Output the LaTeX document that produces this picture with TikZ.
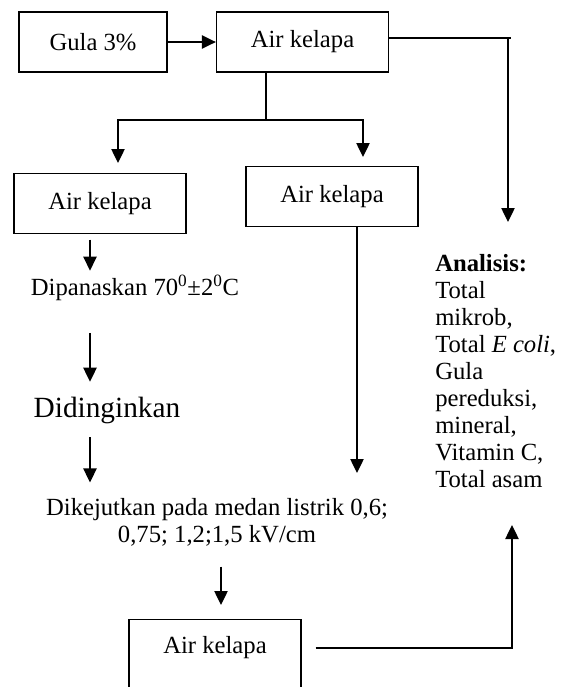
\documentclass[tikz,border=0pt]{standalone}
\usepackage{fontspec}
\setmainfont{Liberation Serif}
\usepackage{tikz}
\usetikzlibrary{arrows.meta, positioning}

\begin{document}
\begin{tikzpicture}[x = 0.75pt, y = -0.75pt,
		kotak/.style = {draw, line width = 1pt, minimum width = 129pt, minimum height = 45pt, inner sep = 0pt, font = \fontsize{18.5}{20.25}\selectfont},
		teks/.style = {inner sep = 0pt, align = center, font = \fontsize{18.5}{20.25}\selectfont},
		garis/.style = {line width = 1pt},
		panah/.style = {line width = 1pt, -{Triangle[width = 10pt, length = 10.5pt]}}]
			\useasboundingbox (0, 0) rectangle (565, 687);
			\node[kotak, minimum width = 111pt] (gula) at (93, 42) {Gula 3\%};
			\node[kotak] (air) at (302.5, 42) {Air kelapa};
			\node[kotak] (airkiri) at (100, 203.5) {Air kelapa};
			\node[kotak] (airtengah) at (332, 196.5) {Air kelapa};
			\node[teks] (panas) at (135, 288) {Dipanaskan 70\textsuperscript{0}±2\textsuperscript{0}C};
			\node[teks, font = \fontsize{22}{24}\selectfont] (dingin) at (107, 410) {Didinginkan};
			\node[teks] (kejut) at (217, 522) {Dikejutkan pada medan listrik 0,6;\\0,75; 1,2;1,5 kV/cm};
			\node[kotak, anchor = north, minimum height = 56pt, text depth = 18pt] (airbawah) at (215, 619) {Air kelapa};
			\node[teks, anchor = north west, align = left] (analisis) at (435, 254)
			{\textbf{Analisis:}\\Total\\mikrob,\\Total \textit{E coli},\\Gula\\pereduksi,\\mineral,\\Vitamin C,\\Total asam};
			\coordinate (cabang) at (266, 120);
			\coordinate (kiri) at (118, 163);
			\coordinate (tengah) at (363, 157);
			\coordinate (kanan) at (508, 38);
			\coordinate (ujungkanan) at (508, 222);
			\coordinate (tengahbawah) at (357, 473);
			\coordinate (kol) at (90, 0);
			\coordinate (kolbawah) at (221, 0);
			\coordinate (garisbawah) at (512, 648);
			\coordinate (bawahkanan) at (512, 525);
			\draw[panah] (gula) -- (air);
			\draw[garis] (air.east |- kanan) -- (kanan) -- ++(3, 0);
			\draw[panah] (kanan) -- (ujungkanan);
			\draw[garis] (cabang |- air.south) -- (cabang);
			\draw[panah] (cabang) -| (kiri);
			\draw[panah] (cabang) -| (tengah);
			\draw[panah] (airtengah.south -| tengahbawah) -- (tengahbawah);
			\draw[panah, shorten <= 4pt, shorten >= 3.4pt] (airkiri.south -| kol) -- (panas.north -| kol);
			\draw[panah, shorten <= 24pt, shorten >= 11pt] (panas.south -| kol) -- (dingin.north -| kol);
			\draw[panah, shorten <= 10.3pt, shorten >= 11.5pt] (dingin.south -| kol) -- (kejut.north -| kol);
			\draw[panah, shorten <= 15.3pt, shorten >= 10.5pt] (kejut.south -| kolbawah) -- (airbawah.north -| kolbawah);
			\draw[panah, shorten <= 10.5pt] (airbawah.east |- garisbawah) -- (garisbawah) -- (bawahkanan);
		\end{tikzpicture}
\end{document}
